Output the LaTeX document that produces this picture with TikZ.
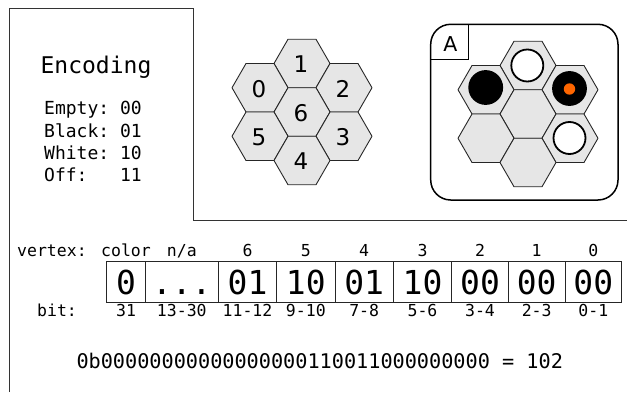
\documentclass[tikz,border=0pt]{standalone}
\usepackage{fontspec}
\setmainfont{DejaVu Sans Mono}
\newfontfamily\sansdv{DejaVu Sans}
\definecolor{hexfill}{HTML}{E6E6E6}
\definecolor{stoneorange}{HTML}{FF6600}
\newcommand\hexcell[2]{%
  \draw[hexcell] (#1,#2) +(28,0) -- +(14,24.25) -- +(-14,24.25) -- +(-28,0) -- +(-14,-24.25) -- +(14,-24.25) -- cycle;}
\frenchspacing
\begin{document}
\frenchspacing
\begin{tikzpicture}[x=1pt,y=-1pt,
  frame/.style={draw=black!80, line width=1pt},
  hexcell/.style={draw=black!85, fill=hexfill, line width=0.9pt, line join=round},
  hexnum/.style={inner sep=0, font=\sansdv\fontsize{23}{27}\selectfont},
  enclist/.style={anchor=base west, inner sep=0, font=\fontsize{18}{22}\selectfont\frenchspacing},
  hdr/.style={anchor=base, inner sep=0, font=\fontsize{16.5}{20}\selectfont},
  cellval/.style={anchor=base, inner sep=0, font=\fontsize{33}{38}\selectfont},
  cellbox/.style={draw=black!85, line width=1pt},
  stone/.style={draw=black, line width=1.8pt}
]
\useasboundingbox (0,0) rectangle (627,396);

% frame lines
\draw[frame] (9,392) -- (9,9) -- (193,9) -- (193,220) -- (627,220);

% encoding legend
\node[anchor=base, inner sep=0, font=\fontsize{23}{27}\selectfont] (enc) at (96,73.3) {Encoding};
\node[enclist] (encE) at (44,114.8) {Empty: 00};
\node[enclist] (encB) at (44,137.1) {Black: 01};
\node[enclist] (encW) at (44,159.4) {White: 10};
\node[enclist] (encO) at (44,181.7) {Off:\ \ \ 11};

% numbered hexagon cluster
\hexcell{302}{63.5}
\hexcell{260}{87.75}
\hexcell{344}{87.75}
\hexcell{302}{112}
\hexcell{260}{136.25}
\hexcell{344}{136.25}
\hexcell{302}{160.5}
\node[hexnum] (h1) at (301,64) {1};
\node[hexnum] (h0) at (259,89) {0};
\node[hexnum] (h2) at (343,89) {2};
\node[hexnum] (h6) at (301,113) {6};
\node[hexnum] (h5) at (259,137) {5};
\node[hexnum] (h3) at (343,137) {3};
\node[hexnum] (h4) at (301,161) {4};

% example panel
\draw[line width=1.5pt, rounded corners=20pt] (430.7,24.3) rectangle (618,200);
\draw[line width=1pt] (430.7,60) -- (468,60) -- (468,24.3);
\node[inner sep=0, font=\sansdv\fontsize{20.5}{24}\selectfont] (lblA) at (450.5,44.2) {A};
\hexcell{528}{65.5}
\hexcell{486}{89.75}
\hexcell{570}{89.75}
\hexcell{528}{114}
\hexcell{486}{138.25}
\hexcell{570}{138.25}
\hexcell{528}{162.5}
\draw[stone, fill=black] (485.7,87.5) circle[radius=16.5pt];
\draw[stone, fill=white] (527.3,65.5) circle[radius=16pt];
\draw[stone, fill=black] (569.5,88.5) circle[radius=16.5pt];
\fill[stoneorange] (569.5,89) circle[radius=5.7pt];
\draw[stone, fill=white] (569.5,138) circle[radius=16pt];

% bit table
\draw[cellbox] (106.7,261) rectangle (621.7,302.7);
\foreach \xx in {145.3,218.3,276.7,335,393.3,451.7,508.3,565}
  \draw[cellbox] (\xx,261) -- (\xx,302.7);

\node[anchor=base west, inner sep=0, font=\fontsize{16.5}{20}\selectfont] (vtx) at (17,256.7) {vertex:};
\node[anchor=base west, inner sep=0, font=\fontsize{16.5}{20}\selectfont] (bitl) at (37,316.5) {bit:};

\node[hdr] (hc) at (126,256.7) {color};
\node[hdr] (hn) at (181.8,256.7) {n/a};
\node[hdr] (hv6) at (247.5,256.7) {6};
\node[hdr] (hv5) at (305.85,256.7) {5};
\node[hdr] (hv4) at (364.2,256.7) {4};
\node[hdr] (hv3) at (422.5,256.7) {3};
\node[hdr] (hv2) at (480,256.7) {2};
\node[hdr] (hv1) at (536.7,256.7) {1};
\node[hdr] (hv0) at (593.35,256.7) {0};

\node[cellval] (c0) at (126,294) {0};
\node[cellval] (c1) at (181.8,294) {...};
\node[cellval] (c2) at (247.5,294) {01};
\node[cellval] (c3) at (305.85,294) {10};
\node[cellval] (c4) at (364.2,294) {01};
\node[cellval] (c5) at (422.5,294) {10};
\node[cellval] (c6) at (480,294) {00};
\node[cellval] (c7) at (536.7,294) {00};
\node[cellval] (c8) at (593.35,294) {00};

\node[hdr] (b0) at (126,316.5) {31};
\node[hdr] (b1) at (181.8,316.5) {13-30};
\node[hdr] (b2) at (247.5,316.5) {11-12};
\node[hdr] (b3) at (305.85,316.5) {9-10};
\node[hdr] (b4) at (364.2,316.5) {7-8};
\node[hdr] (b5) at (422.5,316.5) {5-6};
\node[hdr] (b6) at (480,316.5) {3-4};
\node[hdr] (b7) at (536.7,316.5) {2-3};
\node[hdr] (b8) at (593.35,316.5) {0-1};

% binary value
\node[anchor=base west, inner sep=0, font=\fontsize{20.2}{24}\selectfont] (binval) at (76.3,368.3) {0b00000000000000000110011000000000 = 102};
\end{tikzpicture}
\end{document}
